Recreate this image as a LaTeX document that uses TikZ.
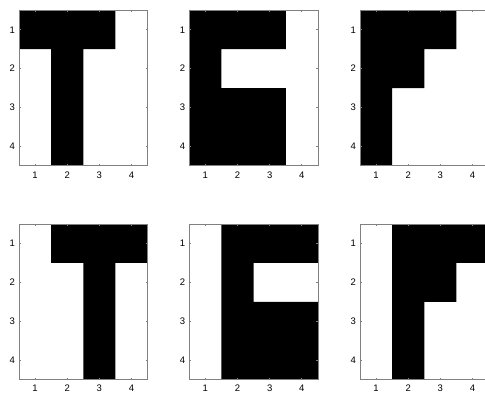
\documentclass[tikz,border=0pt]{standalone}
\usepackage{fontspec}
\setmainfont{Liberation Sans}
\definecolor{axisgray}{RGB}{128,128,128}

\begin{document}
\begin{tikzpicture}[x=1pt, y=-1pt,
    cell/.style={fill=black},
    frame/.style={draw=axisgray, line width=0.8pt},
    ticklabel/.style={font=\fontsize{9.5}{10}\selectfont, inner sep=0pt}
  ]
    \useasboundingbox (0,0) rectangle (485,394);
    \clip (0,0) rectangle (485,394);
    % Panels: left edge / top edge / black cells (row/col) / tag
    \foreach \px/\py/\cells/\tag in {
        19/10.3/{1/1,1/2,1/3,2/2,3/2,4/2}/a,
        189.3/10.3/{1/1,1/2,1/3,2/1,3/1,3/2,3/3,4/1,4/2,4/3}/b,
        360/10.3/{1/1,1/2,1/3,2/1,2/2,3/1,4/1}/c,
        19/224/{1/2,1/3,1/4,2/3,3/3,4/3}/d,
        189.3/224/{1/2,1/3,1/4,2/2,3/2,3/3,3/4,4/2,4/3,4/4}/e,
        360/224/{1/2,1/3,1/4,2/2,2/3,3/2,4/2}/f} {
      \begin{scope}[shift={(\px,\py)}, x=32.15pt, y=-38.875pt]
        % Image cells
        \fill[cell] \foreach \r/\c in \cells { (\c-1,\r-1) rectangle (\c,\r) };
        % Axes box and ticks
        \draw[frame] (0,0) rectangle (4,4);
        \foreach \i in {1,...,4} {
          \draw[frame] (\i-0.5,0) -- ++(0,0.05);
          \draw[frame] (\i-0.5,4) -- ++(0,-0.05);
          \draw[frame] (0,\i-0.5) -- ++(0.06,0);
          \draw[frame] (4,\i-0.5) -- ++(-0.06,0);
          \node[ticklabel, anchor=east, xshift=-4pt] (y\tag\i) at (0,\i-0.5) {\i};
          \node[ticklabel, anchor=north, yshift=-5.5pt] (x\tag\i) at (\i-0.5,4) {\i};
        }
      \end{scope}
    }
\end{tikzpicture}
\end{document}
